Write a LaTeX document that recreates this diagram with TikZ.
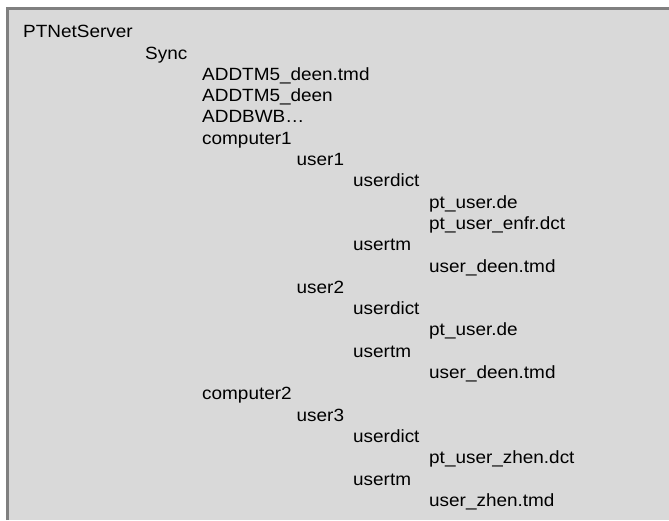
\documentclass[tikz,border=0pt]{standalone}
\usepackage{fontspec}
\setmainfont[FakeStretch=1.07]{Liberation Sans}
\definecolor{panelgray}{HTML}{D9D9D9}
\definecolor{edgegray}{HTML}{808080}
\tikzset{
  entry/.style={anchor=base west,inner sep=0pt,font=\fontsize{17.7}{20}\selectfont}
}
\begin{document}
\begin{tikzpicture}[x=1pt,y=-1pt]
        \useasboundingbox (0,0) rectangle (669,520);
        \fill[panelgray] (7.5,8.5) rectangle (669,520);
        \draw[edgegray,line width=3pt] (7.5,520) -- (7.5,8.5) -- (669,8.5);
        %
        \draw (23,37.7) node[entry](server){PTNetServer};
        \draw (145,59.0) node[entry](sync){Sync};
        \draw (202,80.3) node[entry](tmfile){ADDTM5\_deen.tmd};
        \draw (202,101.6) node[entry](tmdir){ADDTM5\_deen};
        \draw (202,122.9) node[entry](bwb){ADDBWB\textellipsis};
        \draw (202,144.2) node[entry](compA){computer1};
        %
        \draw (296.5,165.5) node[entry](userA){user1};
        \draw (353,186.8) node[entry](dictA){userdict};
        \draw (429,208.1) node[entry](dictAde){pt\_user.de};
        \draw (429,229.4) node[entry](dictAfr){pt\_user\_enfr.dct};
        \draw (353,250.7) node[entry](tmA){usertm};
        \draw (429,272.0) node[entry](tmAfile){user\_deen.tmd};
        %
        \draw (296.5,293.3) node[entry](userB){user2};
        \draw (353,314.6) node[entry](dictB){userdict};
        \draw (429,335.9) node[entry](dictBde){pt\_user.de};
        \draw (353,357.2) node[entry](tmB){usertm};
        \draw (429,378.5) node[entry](tmBfile){user\_deen.tmd};
        %
        \draw (202,399.8) node[entry](compB){computer2};
        \draw (296.5,421.1) node[entry](userC){user3};
        \draw (353,442.4) node[entry](dictC){userdict};
        \draw (429,463.7) node[entry](dictCzh){pt\_user\_zhen.dct};
        \draw (353,485.0) node[entry](tmC){usertm};
        \draw (429,506.3) node[entry](tmCfile){user\_zhen.tmd};
    \end{tikzpicture}
\end{document}
